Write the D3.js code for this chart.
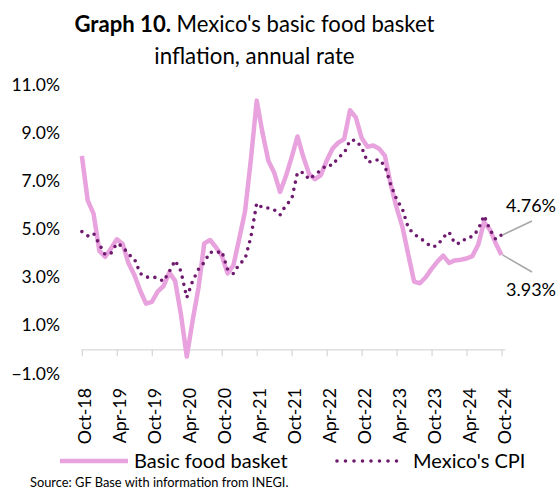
<!DOCTYPE html>
<html>
<head>
<meta charset="utf-8">
<script src="https://cdn.jsdelivr.net/npm/d3@7"></script>
<style>
  html, body { margin: 0; padding: 0; background: #ffffff; }
  svg { display: block; font-family: Lato, "Open Sans", sans-serif; }
</style>
</head>
<body>
<svg id="chart" width="560" height="492"></svg>
<script>
// ---- data (monthly, Oct-2018 .. Oct-2024) ----
const startMonth = new Date(2018, 9, 1);
const endMonth = new Date(2024, 9, 1);
const months = d3.timeMonth.range(startMonth, d3.timeMonth.offset(endMonth, 1));

const foodBasket = [
  8.05, 6.2, 5.65,
  4.1, 3.85, 4.2, 4.58, 4.38, 3.58, 3.1, 2.45, 1.9, 1.98, 2.4, 2.63,
  3.2, 2.85, 1.45, -0.3, 1.2, 2.55, 4.41, 4.55, 4.25, 3.9, 3.16, 3.5,
  4.6, 5.75, 7.9, 10.35, 9.0, 7.85, 7.35, 6.55, 7.2, 8.0, 8.86, 8.0,
  7.3, 7.08, 7.25, 7.85, 8.35, 8.6, 8.75, 9.95, 9.65, 8.8, 8.43, 8.48,
  8.35, 8.05, 6.85, 5.9, 5.1, 3.95, 2.82, 2.75, 3.0, 3.35, 3.65, 3.9,
  3.6, 3.7, 3.73, 3.78, 3.88, 4.35, 5.3, 4.98, 4.42, 3.93
];

const cpi = [
  4.90, 4.72, 4.83,
  4.37, 3.94, 4.00, 4.41, 4.28, 3.95, 3.78, 3.16, 3.00, 3.02, 2.97, 2.83,
  3.24, 3.70, 3.25, 2.15, 2.84, 3.33, 3.62, 4.05, 4.01, 4.09, 3.33, 3.15,
  3.54, 3.76, 4.67, 6.08, 5.89, 5.88, 5.81, 5.59, 6.00, 6.24, 7.37, 7.36,
  7.07, 7.28, 7.45, 7.68, 7.65, 7.99, 8.15, 8.70, 8.70, 8.41, 7.80, 7.82,
  7.91, 7.62, 6.85, 6.25, 5.84, 5.06, 4.79, 4.64, 4.45, 4.26, 4.32, 4.66,
  4.88, 4.40, 4.42, 4.65, 4.69, 4.98, 5.57, 4.99, 4.58, 4.76
];

const seriesNames = ["Basic food basket", "Mexico's CPI"];
const yTicks = [-1, 1, 3, 5, 7, 9, 11];
const xTickLabels = ["Oct-18","Apr-19","Oct-19","Apr-20","Oct-20","Apr-21","Oct-21",
                     "Apr-22","Oct-22","Apr-23","Oct-23","Apr-24","Oct-24"];
const titleBold = "Graph 10.";
const titleRest = " Mexico's basic food basket";
const titleLine2 = "inflation, annual rate";
const sourceText = "Source: GF Base with information from INEGI.";

// ---- styles ----
const foodColor = "#E8A2DD";
const cpiColor = "#6E1A6E";
const axisColor = "#D9D9D9";
const leaderColor = "#A6A6A6";
const textColor = "#000000";

const svg = d3.select("#chart");

// ---- scales ----
const x = d3.scaleLinear().domain([-0.15, 72.6]).range([81, 505]);
const y = d3.scaleLinear().domain([-1, 11]).range([373.4, 85]);

// ---- title ----
const title = svg.append("text")
  .attr("x", 254.5).attr("y", 32)
  .attr("text-anchor", "middle")
  .attr("font-size", 22.1)
  .attr("fill", textColor);
title.append("tspan").attr("font-weight", "bold").text(titleBold);
title.append("tspan").text(titleRest);
svg.append("text")
  .attr("x", 254.5).attr("y", 63.5)
  .attr("text-anchor", "middle")
  .attr("font-size", 22.3)
  .attr("fill", textColor)
  .text(titleLine2);

// ---- y axis labels (no line) ----
const yAxis = d3.axisLeft(y)
  .tickValues(yTicks)
  .tickSize(0)
  .tickPadding(0)
  .tickFormat(d => d3.format(".1f")(d) + "%");
const yG = svg.append("g").attr("transform", "translate(60,0)").call(yAxis);
yG.select(".domain").remove();
yG.selectAll("text").attr("font-size", 17.5).attr("fill", textColor)
  .attr("font-family", "Lato, 'Open Sans', sans-serif");

// ---- x axis at 0% ----
const xTickValues = xTickLabels.map((_, i) => i * 6);
const xAxis = d3.axisBottom(x)
  .tickValues(xTickValues)
  .tickSize(7)
  .tickSizeOuter(0)
  .tickFormat((d, i) => xTickLabels[i]);
const xG = svg.append("g").attr("transform", `translate(0,${y(0)})`).call(xAxis);
xG.select(".domain").attr("stroke", axisColor).attr("stroke-width", 1.3);
xG.selectAll(".tick line").attr("stroke", axisColor).attr("stroke-width", 1.3);
xG.selectAll(".tick text").remove();

// rotated x labels below the plot
svg.append("g").selectAll("text")
  .data(xTickValues)
  .join("text")
  .attr("transform", d => `translate(${x(d) + 3},388) rotate(-90)`)
  .attr("text-anchor", "end")
  .attr("dy", "0.35em")
  .attr("font-size", 17.8)
  .attr("fill", textColor)
  .text((d, i) => xTickLabels[i]);

// ---- lines ----
const line = d3.line()
  .x((d, i) => x(i))
  .y(d => y(d));

svg.append("path")
  .datum(foodBasket)
  .attr("fill", "none")
  .attr("stroke", foodColor)
  .attr("stroke-width", 4.5)
  .attr("stroke-linejoin", "round")
  .attr("d", line);

svg.append("path")
  .datum(cpi)
  .attr("fill", "none")
  .attr("stroke", cpiColor)
  .attr("stroke-width", 3.6)
  .attr("stroke-linecap", "round")
  .attr("stroke-dasharray", "0 7.4")
  .attr("d", line);

// ---- end annotations ----
const last = months.length - 1;
const annos = [
  { v: cpi[last], tx: 532, ty: 221, lx: 506, ly: 212 },
  { v: foodBasket[last], tx: 532, ty: 272, lx: 506, ly: 296 }
];
annos.forEach(a => {
  svg.append("line")
    .attr("x1", x(last) + 1).attr("y1", y(a.v))
    .attr("x2", a.tx).attr("y2", a.ty)
    .attr("stroke", leaderColor).attr("stroke-width", 1.5);
  svg.append("text")
    .attr("x", a.lx).attr("y", a.ly)
    .attr("font-size", 18)
    .attr("fill", textColor)
    .text(d3.format(".2f")(a.v) + "%");
});

// ---- legend ----
const legY = 461;
svg.append("line")
  .attr("x1", 60).attr("x2", 128).attr("y1", legY).attr("y2", legY)
  .attr("stroke", foodColor).attr("stroke-width", 4.5);
svg.append("text")
  .attr("x", 134).attr("y", legY).attr("dy", "0.35em")
  .attr("font-size", 20).attr("fill", textColor)
  .text(seriesNames[0]);
svg.append("line")
  .attr("x1", 337).attr("x2", 405).attr("y1", legY).attr("y2", legY)
  .attr("stroke", cpiColor).attr("stroke-width", 3.6)
  .attr("stroke-linecap", "round")
  .attr("stroke-dasharray", "0 8.5");
svg.append("text")
  .attr("x", 413).attr("y", legY).attr("dy", "0.35em")
  .attr("font-size", 20).attr("fill", textColor)
  .text(seriesNames[1]);

// ---- source ----
svg.append("text")
  .attr("x", 30).attr("y", 487)
  .attr("font-size", 12.85)
  .attr("fill", textColor)
  .text(sourceText);
</script>
</body>
</html>
